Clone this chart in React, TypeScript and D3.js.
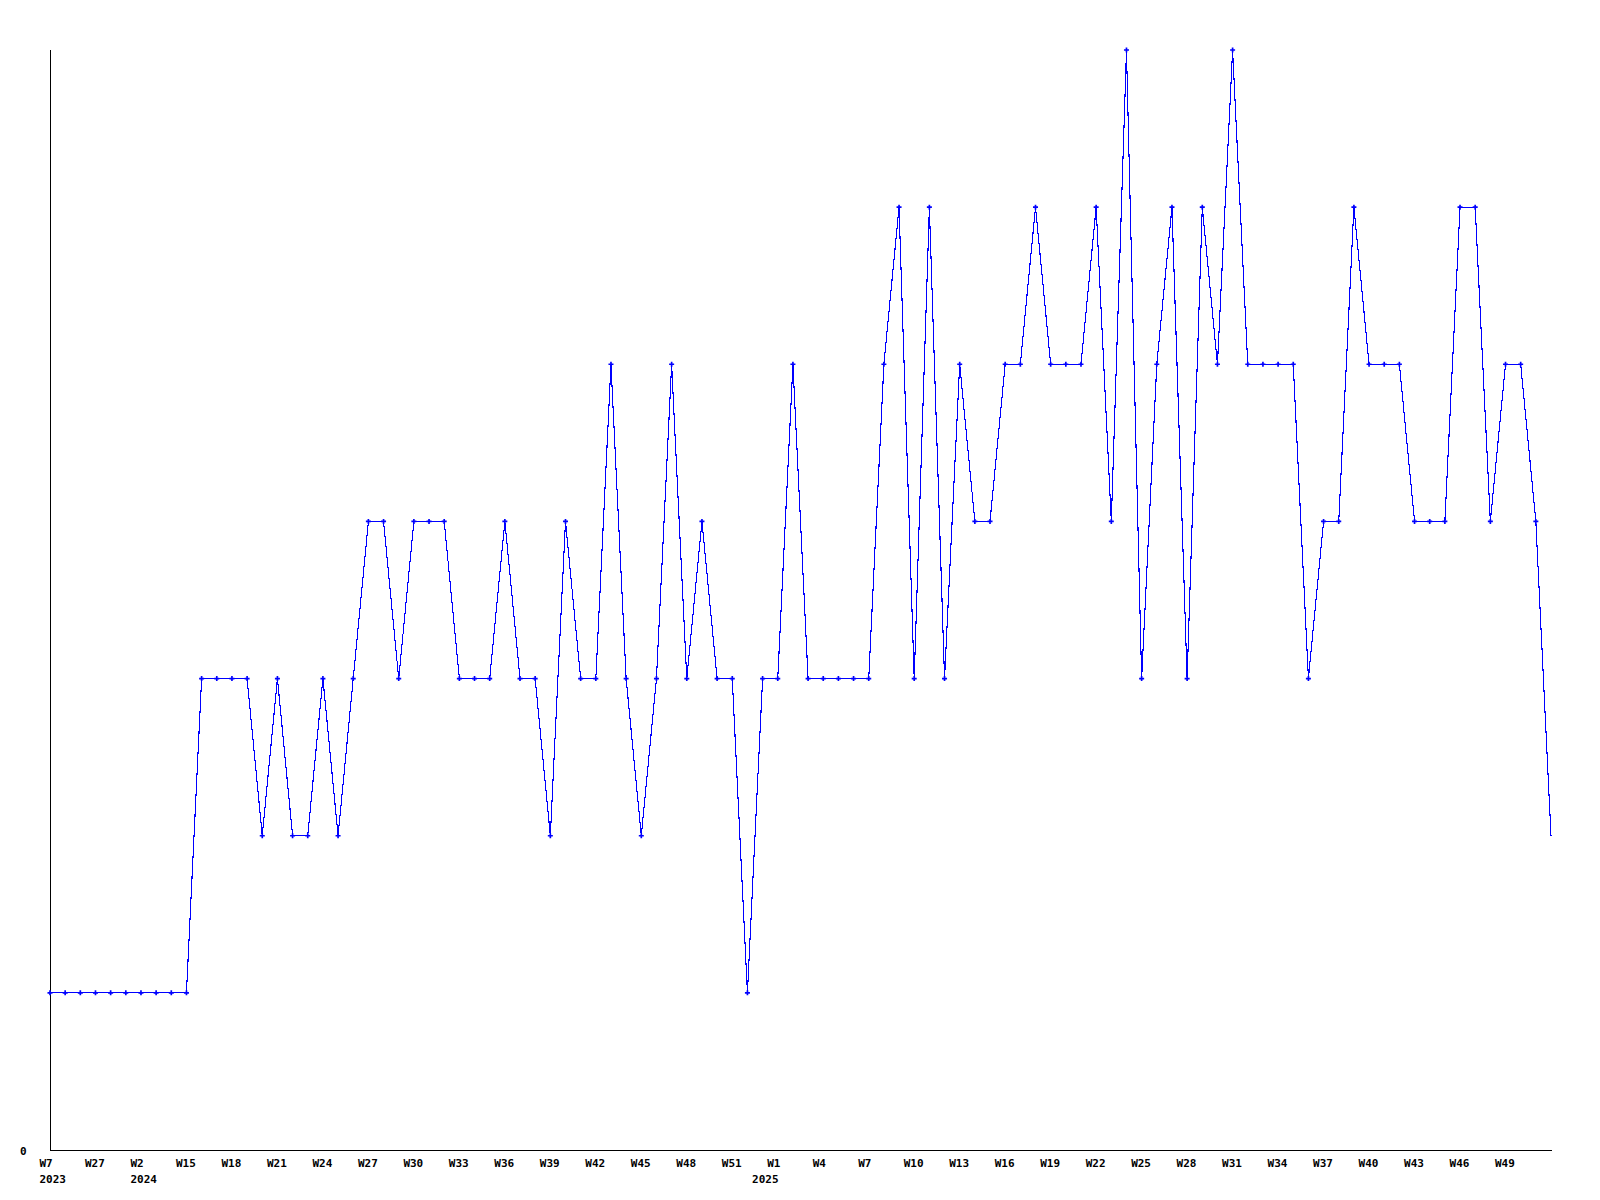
import React, { useEffect, useRef } from 'react';
import * as d3 from 'd3';

// week numbers per year, in the order they appear on the x axis
const weeks2023 = [7, 12, 19, 27, 33, 44];
const weeks2024 = [2, 6, 10, 15, 16, 17, 18, 19, 20, 21, 22, 23, 24, 25, 26, 27, 28, 29, 30, 31, 32, 33, 34, 35, 36, 37, 38, 39, 40, 41, 42, 43, 44, 45, 46, 47, 48, 49, 50, 51, 52];
const weeks2025 = [0, 1, 2, 3, 4, 5, 6, 7, 8, 9, 10, 11, 12, 13, 14, 15, 16, 17, 18, 19, 20, 21, 22, 23, 24, 25, 26, 27, 28, 29, 30, 31, 32, 33, 34, 35, 36, 37, 38, 39, 40, 41, 42, 43, 44, 45, 46, 47, 48, 49, 50, 51, 52];
const years = [2023, 2024, 2025];

const counts = [
  1, 1, 1, 1, 1, 1, 1, 1, 1, 1,
  3, 3, 3, 3, 2, 3, 2, 2, 3, 2,
  3, 4, 4, 3, 4, 4, 4, 3, 3, 3,
  4, 3, 3, 2, 4, 3, 3, 5, 3, 2,
  3, 5, 3, 4, 3, 3, 1, 3, 3, 5,
  3, 3, 3, 3, 3, 5, 6, 3, 6, 3,
  5, 4, 4, 5, 5, 6, 5, 5, 5, 6,
  4, 7, 3, 5, 6, 3, 6, 5, 7, 5,
  5, 5, 5, 3, 4, 4, 6, 5, 5, 5,
  4, 4, 4, 6, 6, 4, 5, 5, 4, 2,
];

const yTicks = [0];

const categories = [
  ...weeks2023.map(w => ({ year: years[0], week: w })),
  ...weeks2024.map(w => ({ year: years[1], week: w })),
  ...weeks2025.map(w => ({ year: years[2], week: w })),
];

const WeeklyChart: React.FC = () => {
  const svgRef = useRef<SVGSVGElement>(null);

  useEffect(() => {
    if (!svgRef.current) return;
    const svg = d3.select(svgRef.current);
    svg.selectAll("*").remove();

    const left = 50, right = 1551, top = 50, bottom = 1150;
    const font = "'DejaVu Sans Mono', monospace";

    const x = d3.scaleLinear()
      .domain([0, categories.length - 1])
      .range([left, right]);
    const y = d3.scaleLinear()
      .domain([0, d3.max(counts) as number])
      .range([bottom, top]);

    // axes
    svg.append("line")
      .attr("x1", left + 0.5).attr("x2", left + 0.5)
      .attr("y1", top).attr("y2", bottom + 1)
      .attr("stroke", "#000").attr("shape-rendering", "crispEdges");
    svg.append("line")
      .attr("x1", left).attr("x2", right + 1)
      .attr("y1", bottom + 0.5).attr("y2", bottom + 0.5)
      .attr("stroke", "#000").attr("shape-rendering", "crispEdges");

    yTicks.forEach(t => {
      svg.append("text")
        .attr("x", 20).attr("y", y(t) + 5)
        .attr("font-family", font).attr("font-weight", "bold")
        .attr("font-size", 11).attr("fill", "#000")
        .text(String(t));
    });

    // week labels every third category (not on the last one), year label at first week of a year
    categories.forEach((c, i) => {
      if (i % 3 === 0 && i < categories.length - 1) {
        svg.append("text")
          .attr("x", x(i) - 10.5).attr("y", 1167)
          .attr("font-family", font).attr("font-weight", "bold")
          .attr("font-size", 11).attr("fill", "#000")
          .text(`W${c.week}`);
      }
      if (i === 0 || categories[i - 1].year !== c.year) {
        svg.append("text")
          .attr("x", x(i) - 10.5).attr("y", 1182.5)
          .attr("font-family", font).attr("font-weight", "bold")
          .attr("font-size", 11).attr("fill", "#000")
          .text(String(c.year));
      }
    });

    // line
    const line = d3.line<number>()
      .x((_, i) => x(i))
      .y(d => y(d));

    svg.append("path")
      .datum(counts)
      .attr("d", line)
      .attr("fill", "none")
      .attr("stroke", "#0000ff")
      .attr("stroke-width", 1.1)
      .attr("shape-rendering", "crispEdges");

    // point markers (last point has none)
    const cross = d3.symbol().type(d3.symbolCross).size(14);
    svg.append("g")
      .selectAll("path")
      .data(counts.slice(0, -1))
      .join("path")
      .attr("transform", (d, i) => `translate(${x(i)},${y(d)})`)
      .attr("d", cross as any)
      .attr("fill", "#0000ff");
  }, []);

  return <svg ref={svgRef} width={1600} height={1200} style={{ display: 'block' }}></svg>;
};

export default function App() {
  return (
    <div style={{ position: 'absolute', left: 0, top: 0, width: 1600, height: 1200, background: '#fff' }}>
      <WeeklyChart />
    </div>
  );
}
